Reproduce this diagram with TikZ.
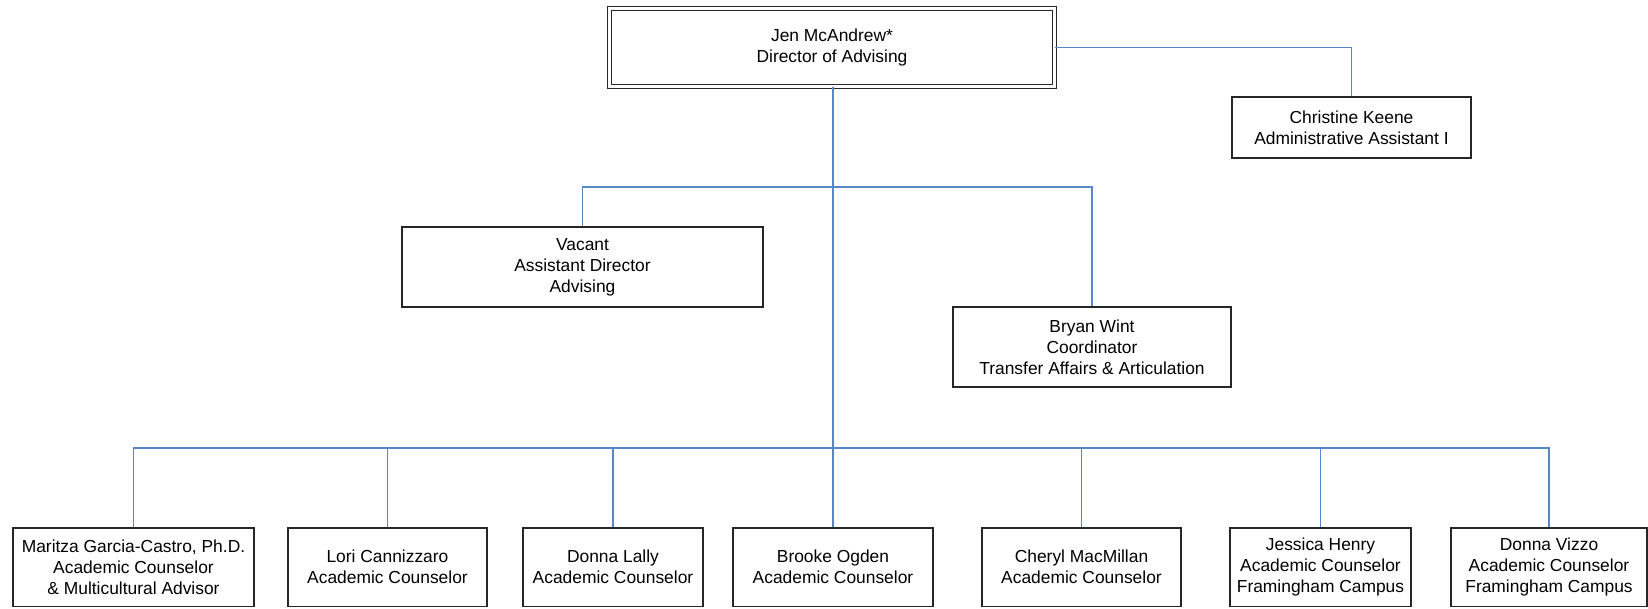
\documentclass[tikz,border=0pt]{standalone}
\usepackage{fontspec}
\setmainfont{Liberation Sans}
\begin{document}
\begin{tikzpicture}[x=1pt,y=-1pt,
  person/.style={draw=black!85, line width=1.2pt, fill=white, rectangle, inner sep=0pt,
    align=center, font=\fontsize{17.4}{21}\selectfont},
  headbox/.style={person, double=white, double distance=2.6pt},
  link/.style={draw={rgb,255:red,88;green,134;blue,204}, line width=1.4pt}]
\useasboundingbox (0,0) rectangle (1648,608);

% director
\node[headbox, minimum width=445pt, minimum height=78pt] (head) at (832,47.5)
  {Jen McAndrew*\\Director of Advising};

% second level
\node[person, minimum width=239pt, minimum height=61pt] (keene) at (1351.5,127.5)
  {Christine Keene\\Administrative Assistant I};
\node[person, minimum width=361pt, minimum height=80pt] (vacant) at (582.5,267)
  {Vacant\\Assistant Director\\Advising};
\node[person, minimum width=278pt, minimum height=80pt] (wint) at (1092,347)
  {Bryan Wint\\Coordinator\\Transfer Affairs \& Articulation};

% counselors
\node[person, minimum width=241pt, minimum height=78.5pt] (garcia) at (133.5,567.25)
  {Maritza Garcia-Castro, Ph.D.\\Academic Counselor\\\& Multicultural Advisor};
\node[person, minimum width=199pt, minimum height=78.5pt] (cannizzaro) at (387.5,567.25)
  {Lori Cannizzaro\\Academic Counselor};
\node[person, minimum width=180pt, minimum height=78.5pt] (lally) at (613,567.25)
  {Donna Lally\\Academic Counselor};
\node[person, minimum width=200pt, minimum height=78.5pt] (ogden) at (833,567.25)
  {Brooke Ogden\\Academic Counselor};
\node[person, minimum width=199pt, minimum height=78.5pt] (macmillan) at (1081.5,567.25)
  {Cheryl MacMillan\\Academic Counselor};
\node[person, minimum width=181pt, minimum height=78.5pt] (henry) at (1320.5,567.25)
  {Jessica Henry\\Academic Counselor\\Framingham Campus};
\node[person, minimum width=196pt, minimum height=78.5pt] (vizzo) at (1549,567.25)
  {Donna Vizzo\\Academic Counselor\\Framingham Campus};

% bus lines
\coordinate (midbus) at (833,187);
\coordinate (lowbus) at (833,448);

\begin{scope}[on background layer/.try]
\draw[link] (head.east) -| (keene.north);
\draw[link] (head.south -| ogden.north) -- (ogden.north);
\draw[link] (vacant.north) |- (midbus) -| (wint.north);
\draw[link] (garcia.north) |- (lowbus) -| (vizzo.north);
\foreach \n in {cannizzaro,lally,macmillan,henry}
  \draw[link] (\n.north) -- (\n.north |- lowbus);
\end{scope}
\end{tikzpicture}
\end{document}
